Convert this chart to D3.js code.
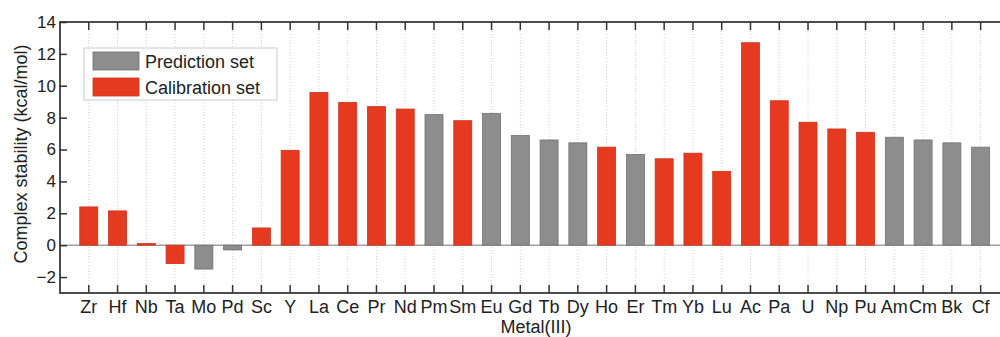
<!DOCTYPE html>
<html lang="en">
<head>
<meta charset="utf-8">
<style>
  body { margin: 0; background: #fff; }
  text { font-family: "Liberation Sans", Arial, sans-serif; fill: #222; }
</style>
<title>Complex stability</title>
</head>
<body>
<div id="chart"></div>
<script src="https://d3js.org/d3.v7.min.js"></script>
<script>
const metals = ["Zr","Hf","Nb","Ta","Mo","Pd","Sc","Y","La","Ce","Pr","Nd","Pm","Sm","Eu","Gd",
                "Tb","Dy","Ho","Er","Tm","Yb","Lu","Ac","Pa","U","Np","Pu","Am","Cm","Bk","Cf"];
const stability = [2.4, 2.15, 0.1, -1.15, -1.5, -0.3, 1.08, 5.95, 9.58, 8.96, 8.69, 8.54, 8.19, 7.81, 8.27, 6.88,
                   6.6, 6.42, 6.15, 5.69, 5.42, 5.77, 4.63, 12.7, 9.06, 7.71, 7.29, 7.08, 6.77, 6.6, 6.42, 6.15];
// P = prediction set, C = calibration set
const dataset = ["C","C","C","C","P","P","C","C","C","C","C","C","P","C","P","P",
                 "P","P","C","P","C","C","C","C","C","C","C","C","P","P","P","P"];
const yTicks = [-2, 0, 2, 4, 6, 8, 10, 12, 14];
const legendItems = [["P", "Prediction set"], ["C", "Calibration set"]];

const w = 1000, h = 337;
const mLeft = 60, mTop = 22, mBottom = 293;
const step = 28.77;

const colors = { P: "#8d8d8d", C: "#e63a20" };
const strokes = { P: "#727272", C: "#cc321b" };

const svg = d3.select("#chart").append("svg")
    .attr("width", w).attr("height", h);

const x = d3.scaleLinear().domain([0, metals.length + 1]).range([mLeft, mLeft + step * (metals.length + 1)]);
const y = d3.scaleLinear().domain([-3, 14]).range([mBottom, mTop]);
const mRight = x(metals.length + 1);

// dotted vertical grid
svg.append("g").selectAll("line").data(metals).enter().append("line")
    .attr("x1", (d, i) => x(i + 1)).attr("x2", (d, i) => x(i + 1))
    .attr("y1", mTop).attr("y2", mBottom)
    .attr("stroke", "#dccccc").attr("stroke-width", 1)
    .attr("stroke-dasharray", "1,2");

// zero line
svg.append("line")
    .attr("x1", mLeft).attr("x2", mRight)
    .attr("y1", y(0)).attr("y2", y(0))
    .attr("stroke", "#a0a0a0").attr("stroke-width", 1.5);

// bars
const bw = 18;
svg.append("g").selectAll("rect").data(stability).enter().append("rect")
    .attr("x", (d, i) => x(i + 1) - bw / 2)
    .attr("y", d => y(Math.max(0, d)))
    .attr("width", bw)
    .attr("height", d => Math.abs(y(d) - y(0)))
    .attr("fill", (d, i) => colors[dataset[i]])
    .attr("stroke", (d, i) => strokes[dataset[i]])
    .attr("stroke-width", 0.8);

// frame
svg.append("rect")
    .attr("x", mLeft).attr("y", mTop)
    .attr("width", mRight - mLeft).attr("height", mBottom - mTop)
    .attr("fill", "none").attr("stroke", "#3a3a3a").attr("stroke-width", 1.8);

// x ticks (inward, top and bottom)
const xt = svg.append("g");
metals.forEach((m, i) => {
  xt.append("line").attr("x1", x(i + 1)).attr("x2", x(i + 1))
    .attr("y1", mBottom).attr("y2", mBottom - 8).attr("stroke", "#333").attr("stroke-width", 1.5);
  xt.append("line").attr("x1", x(i + 1)).attr("x2", x(i + 1))
    .attr("y1", mTop).attr("y2", mTop + 8).attr("stroke", "#333").attr("stroke-width", 1.5);
});

// x labels
svg.append("g").selectAll("text").data(metals).enter().append("text")
    .attr("x", (d, i) => x(i + 1)).attr("y", 313)
    .attr("text-anchor", "middle").attr("font-size", 18)
    .text(d => d);

// y axis
const yAxis = d3.axisLeft(y).tickValues(yTicks).tickSize(-7).tickPadding(4);
const ya = svg.append("g").attr("transform", `translate(${mLeft},0)`).call(yAxis);
ya.select(".domain").remove();
ya.selectAll(".tick line").attr("stroke", "#333").attr("stroke-width", 1.5);
ya.selectAll(".tick text").attr("font-size", 17).attr("font-family", "Liberation Sans, Arial, sans-serif").attr("fill", "#222");

const yAxisR = d3.axisRight(y).tickValues(yTicks).tickSize(-7).tickFormat("");
const yr = svg.append("g").attr("transform", `translate(${mRight},0)`).call(yAxisR);
yr.select(".domain").remove();
yr.selectAll(".tick line").attr("stroke", "#333").attr("stroke-width", 1.5);

// axis titles
svg.append("text")
    .attr("transform", "translate(27,154) rotate(-90)")
    .attr("text-anchor", "middle").attr("font-size", 18)
    .text("Complex stability (kcal/mol)");
svg.append("text")
    .attr("x", 536).attr("y", 333)
    .attr("text-anchor", "middle").attr("font-size", 18)
    .text("Metal(III)");

// legend
const lg = svg.append("g").attr("transform", "translate(84,48)");
lg.append("rect").attr("width", 193).attr("height", 52)
    .attr("fill", "#fff").attr("stroke", "#ccc").attr("stroke-width", 1);
legendItems.forEach((it, i) => {
  lg.append("rect").attr("x", 9).attr("y", 4 + i * 26).attr("width", 46).attr("height", 18)
    .attr("fill", colors[it[0]]).attr("stroke", strokes[it[0]]).attr("stroke-width", 0.8);
  lg.append("text").attr("x", 61).attr("y", 20 + i * 26)
    .attr("font-size", 18).text(it[1]);
});
</script>
</body>
</html>
